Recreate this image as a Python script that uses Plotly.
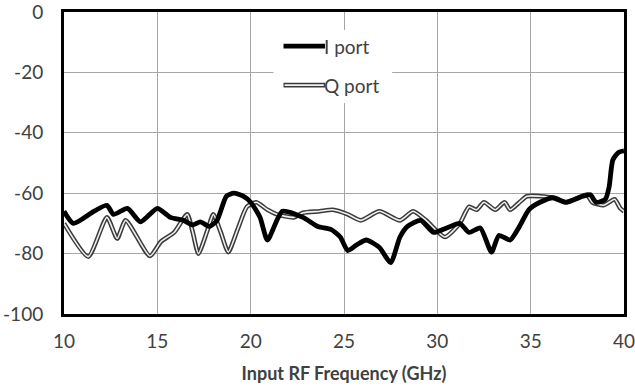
import plotly.graph_objects as go

# I port (thick black)
i_freq = [10.0, 10.5, 11.6, 12.3, 12.65, 13.4, 14.1, 15.0, 15.7, 16.4, 16.9, 17.3, 17.8, 18.2, 18.7,
          19.1, 19.6, 20.0, 20.5, 20.9, 21.7, 22.8, 23.6, 24.3, 24.8, 25.2, 25.7, 26.2, 26.9, 27.5,
          28.0, 28.4, 29.1, 29.8, 30.5, 31.2, 31.7, 32.3, 32.9, 33.3, 33.9, 34.4, 34.9, 35.5, 36.2,
          36.9, 37.8, 38.2, 38.5, 39.0, 39.2, 39.4, 39.7, 40.0]
i_val = [-66, -70, -66, -64, -67, -65, -69.5, -65, -68, -69, -70.5, -69.5, -71, -69, -61,
         -60, -61, -63, -68, -75.5, -66, -68, -71, -72, -74.5, -79, -77, -75.5, -78, -83,
         -74.5, -71, -69, -73, -71.5, -70, -73, -71.5, -79.5, -74, -75.5, -71, -65.5, -63, -61.5,
         -63, -61, -60.5, -63, -62, -58, -49, -46.5, -46]

# Q port (double outline line)
q_freq = [10.0, 11.3, 12.3, 12.85, 13.3, 14.6, 15.2, 15.9, 16.6, 16.9, 17.2, 17.7, 18.0, 18.4,
          18.8, 19.3, 19.8, 20.3, 20.9, 21.4, 22.3, 22.8, 23.7, 24.4, 25.2, 25.9, 26.9, 28.0,
          28.7, 29.4, 30.4, 31.2, 31.7, 32.1, 32.5, 33.1, 33.6, 33.9, 34.4, 34.8, 35.5, 36.2,
          36.9, 38.0, 38.3, 38.9, 39.2, 39.5, 39.8, 40.0]
q_val = [-70, -81, -68, -75, -69, -80.8, -76, -73, -67, -73, -80, -72, -67, -73,
         -79.5, -72, -64.5, -63, -65.5, -67, -68, -66.5, -66, -65.5, -67, -69, -66, -69,
         -66, -69, -74.5, -70, -64.5, -65.5, -63, -65.5, -63, -65.5, -63, -61, -61, -61.5,
         -63, -60.5, -63, -64, -63, -62, -65, -66]

x_ticks = [10, 15, 20, 25, 30, 35, 40]
x_tick_text = ["10", "15", "20", "25", "30", "35", "40"]
y_ticks = [0, -20, -40, -60, -80, -100]
y_tick_text = ["0", "-20", "-40", "-60", "-80", "-100"]
x_title = "Input RF Frequency (GHz)"
legend_labels = ["I port", "Q port"]

FONT = "Lato"
TXT = "#404040"

fig = go.Figure()
fig.add_trace(go.Scatter(x=q_freq, y=q_val, mode="lines", showlegend=False, hoverinfo="skip",
                         line=dict(color="#3a3a3a", width=4.6, shape="spline", smoothing=0.6)))
fig.add_trace(go.Scatter(x=q_freq, y=q_val, mode="lines", showlegend=False, hoverinfo="skip",
                         line=dict(color="#f0f0f0", width=1.6, shape="spline", smoothing=0.6)))
fig.add_trace(go.Scatter(x=i_freq, y=i_val, mode="lines", showlegend=False, hoverinfo="skip",
                         line=dict(color="black", width=4.8, shape="spline", smoothing=0.6)))

# manual legend (white box + sample lines + labels)
shapes = [
    dict(type="rect", xref="paper", yref="paper", x0=0.374, x1=0.586, y0=0.699, y1=0.94,
         fillcolor="white", line=dict(width=0), layer="above"),
    dict(type="line", xref="paper", yref="paper", x0=0.392, x1=0.466, y0=0.887, y1=0.887,
         line=dict(color="black", width=4.8), layer="above"),
    dict(type="line", xref="paper", yref="paper", x0=0.392, x1=0.466, y0=0.758, y1=0.758,
         line=dict(color="#3a3a3a", width=4.6), layer="above"),
    dict(type="line", xref="paper", yref="paper", x0=0.394, x1=0.464, y0=0.758, y1=0.758,
         line=dict(color="#f0f0f0", width=1.6), layer="above"),
]
annotations = [
    dict(xref="paper", yref="paper", x=0.466, y=0.887, text=legend_labels[0], showarrow=False,
         xanchor="left", yanchor="middle", xshift=-3, font=dict(family=FONT, size=19, color=TXT)),
    dict(xref="paper", yref="paper", x=0.466, y=0.758, text=legend_labels[1], showarrow=False,
         xanchor="left", yanchor="middle", xshift=-3, font=dict(family=FONT, size=19, color=TXT)),
]

fig.update_layout(
    width=635, height=390,
    margin=dict(l=64, r=11, t=12, b=76, autoexpand=False),
    paper_bgcolor="white", plot_bgcolor="white",
    font=dict(family=FONT, size=19, color=TXT),
    shapes=shapes, annotations=annotations,
    xaxis=dict(range=[10, 40], tickvals=x_ticks, ticktext=x_tick_text, automargin=False,
               ticklabeloverflow="allow",
               showgrid=True, gridcolor="#a6a6a6", gridwidth=1,
               showline=True, linecolor="black", linewidth=3, mirror=True, zeroline=False,
               ticks="", ticklabelstandoff=8,
               title=dict(text="<b>" + x_title + "</b>", font=dict(family=FONT, size=18, color=TXT),
                          standoff=17)),
    yaxis=dict(range=[-100, 0], tickvals=y_ticks, ticktext=y_tick_text, automargin=False,
               ticklabeloverflow="allow",
               showgrid=True, gridcolor="#a6a6a6", gridwidth=1,
               showline=True, linecolor="black", linewidth=3, mirror=True, zeroline=False,
               ticks="", ticklabelstandoff=14),
)

# remove the default 8px page margin so the figure sits at the window's top-left corner
fig.write_html("out.html", config={"displayModeBar": False},
               post_script="document.body.style.margin='0';")
